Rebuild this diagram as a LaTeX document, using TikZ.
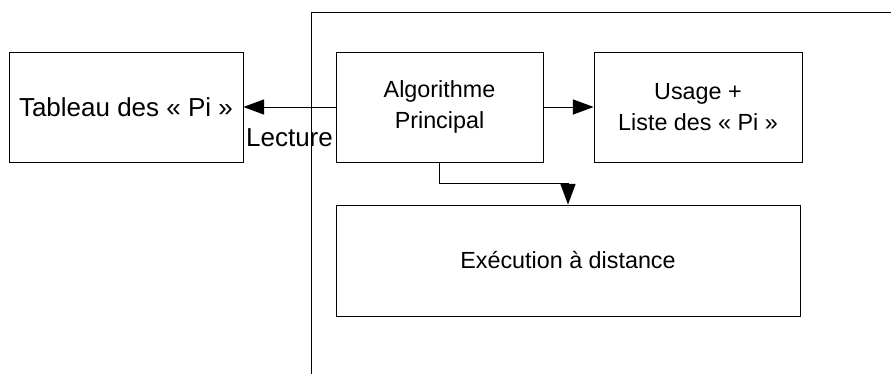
\documentclass[tikz,border=0pt]{standalone}
\usepackage{fontspec}
\setmainfont{Liberation Sans}
\usetikzlibrary{shapes,arrows.meta,positioning,calc}

\tikzset{
  bloc/.style={draw, line width=0.6pt, align=center, inner sep=2pt,
    font=\fontsize{16.6}{21.5}\selectfont},
  grand/.style={font=\fontsize{18.5}{22}\selectfont},
  fleche/.style={line width=0.6pt, -{Triangle[length=0.52cm,width=0.38cm]}}
}

\begin{document}
\begin{tikzpicture}
    \useasboundingbox (0,0) rectangle (22.275,9.35);
    % cadre
    \draw[line width=0.6pt] (7.775,0) -- (7.775,9.05) -- (22.275,9.05);
    % blocs
    \node[bloc, grand, minimum width=5.85cm, minimum height=2.75cm] (tableau) at (3.15,6.675) {Tableau des « Pi »};
    \node[bloc, minimum width=5.175cm, minimum height=2.75cm] (algo) at (10.9875,6.675) {Algorithme\\Principal};
    \node[bloc, minimum width=5.2cm, minimum height=2.75cm] (usage) at (17.45,6.675) {Usage +\\Liste des « Pi »};
    \node[bloc, minimum width=11.6cm, minimum height=2.775cm] (exec) at (14.2,2.8375) {Exécution à distance};
    % liaisons
    \draw[fleche] (algo.west) -- (tableau.east) node[midway, below=0.45cm, grand, inner sep=2pt] (lecture) {Lecture};
    \draw[fleche] (algo.east) -- (usage.west);
    \draw[fleche] (algo.south) -- ++(0,-0.525) -| (exec.north);
\end{tikzpicture}
\end{document}
